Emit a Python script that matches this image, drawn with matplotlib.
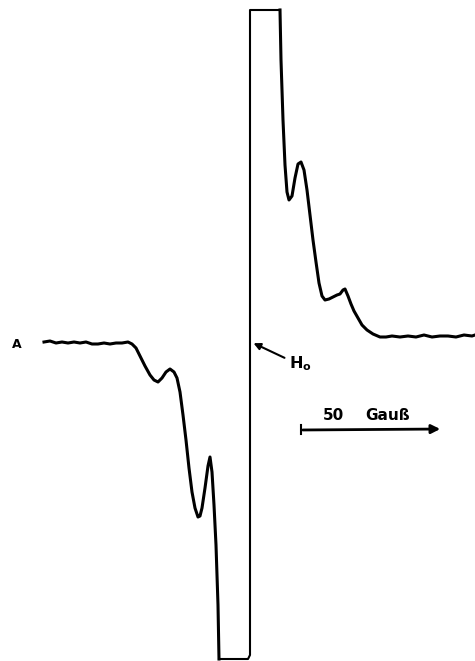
import matplotlib.pyplot as plt

# trace (x = field position, y = signal, both in picture pixels)
x_left = [44, 50, 56, 62, 68, 74, 80, 86, 92, 98, 104, 110, 116, 122, 128, 132,
          136, 140, 145, 150, 154, 158, 162, 166, 170, 174, 177, 180, 183, 186,
          189, 192, 195, 198, 200, 202, 205, 208, 210, 212, 214, 216, 218, 219]
y_left = [342, 341, 343, 342, 343, 342, 343, 342, 344, 344, 343, 344, 343, 343,
          342, 344, 348, 356, 366, 375, 380, 382, 378, 372, 369, 372, 378, 392,
          415, 440, 468, 492, 508, 517, 516, 508, 488, 466, 457, 472, 505, 545,
          605, 659]

# clipped centre line (off scale top and bottom)
x_mid = [219, 248, 250, 250, 280]
y_mid = [659, 659, 655, 10, 10]

x_right = [280, 281, 283, 285, 287, 289, 292, 295, 298, 301, 304, 307, 310, 313,
           316, 319, 322, 325, 329, 333, 337, 340, 343, 345, 348, 351, 354, 358,
           362, 367, 373, 380, 386, 392, 400, 408, 416, 424, 432, 440, 448, 456,
           464, 472, 475]
y_right = [10, 60, 120, 165, 192, 200, 196, 178, 164, 162, 170, 190, 215, 240,
           262, 283, 296, 300, 299, 297, 295, 294, 290, 289, 296, 304, 311, 318,
           325, 330, 334, 337, 337, 336, 337, 336, 337, 335, 337, 336, 336, 337,
           335, 336, 335]

fig = plt.figure(figsize=(4.75, 6.61), dpi=100)
ax = fig.add_axes([0, 0, 1, 1])

ax.plot(x_left, y_left, color='black', lw=2.2, solid_joinstyle='round')
ax.plot(x_mid, y_mid, color='black', lw=1.5, solid_joinstyle='round')
ax.plot(x_right, y_right, color='black', lw=2.2, solid_joinstyle='round')

# small mark at the left end
ax.text(17, 345, 'A', fontsize=9, fontweight='bold', ha='center', va='center')

# H0 marker
ax.annotate('', xy=(251, 342), xytext=(287, 359),
            arrowprops=dict(arrowstyle='-|>', lw=1.5, color='black', mutation_scale=10))
ax.text(289, 364, r'H$_\mathregular{o}$', fontsize=11.5, fontweight='bold',
        ha='left', va='center')

# field scale bar
ax.annotate('', xy=(443, 429), xytext=(300, 430),
            arrowprops=dict(arrowstyle='-|>', lw=2.0, color='black', mutation_scale=13))
ax.plot([301, 301], [425, 434], color='black', lw=1.5)
ax.text(323, 416, '50', fontsize=11, fontweight='bold', ha='left', va='center')
ax.text(365, 416, 'Gauß', fontsize=11, fontweight='bold', ha='left', va='center')

ax.set_xlim(0, 475)
ax.set_ylim(661, 0)
ax.axis('off')

fig.savefig('out.png', dpi=100)
